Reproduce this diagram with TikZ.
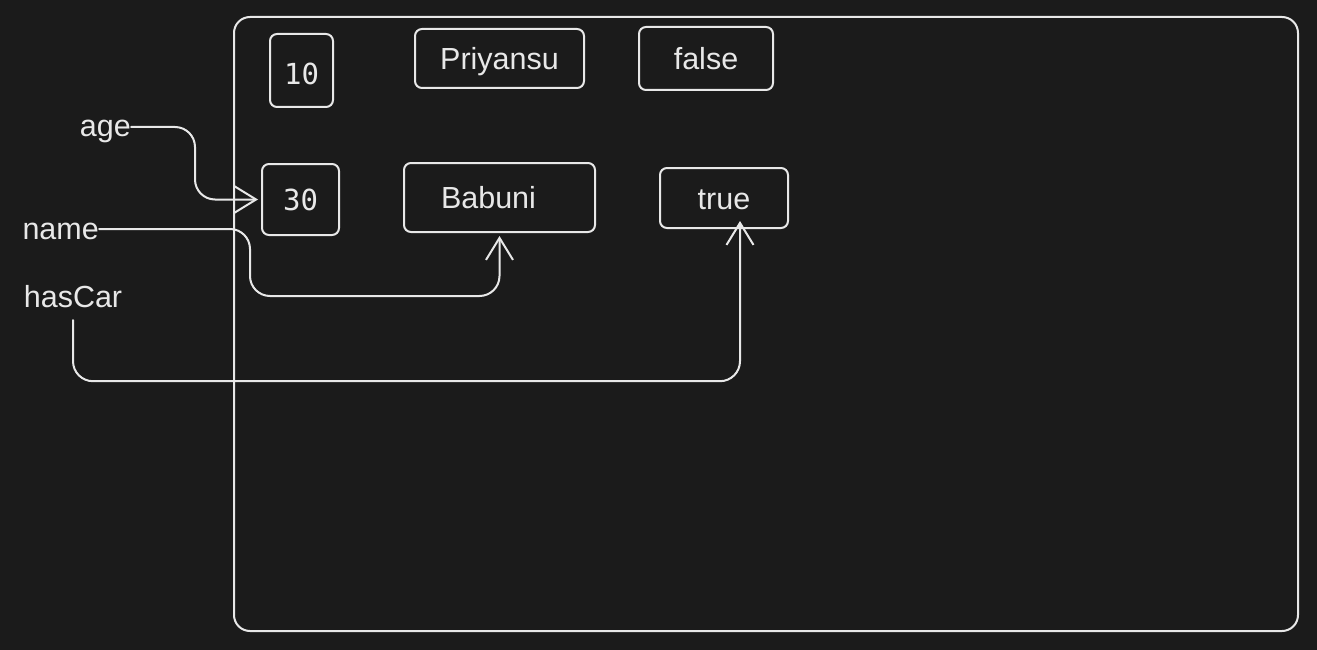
\documentclass[tikz,border=0pt]{standalone}
\usepackage{fontspec}
\setmainfont{Liberation Sans}
\newfontfamily\monofnt{DejaVu Sans Mono}
\usetikzlibrary{arrows.meta}
\definecolor{bgc}{RGB}{27,27,27}
\definecolor{ink}{RGB}{232,232,232}
\tikzset{
  valbox/.style={draw=ink, line width=2pt, rounded corners=7pt, inner sep=0pt,
     text=ink, font=\fontsize{30.5}{30}\selectfont, text height=22pt, text depth=0pt},
  numbox/.style={valbox, font=\monofnt\fontsize{29}{29}\selectfont},
  lbl/.style={text=ink, inner sep=0pt, font=\fontsize{30.5}{30}\selectfont, text height=20pt, text depth=0pt},
  conn/.style={draw=ink, line width=2pt, line cap=round, line join=round, rounded corners=20pt,
     -{Straight Barb[length=22pt,width=27pt,line width=2pt]}}
}
\begin{document}
\begin{tikzpicture}[x=1pt,y=-1pt]
\fill[bgc] (0,0) rectangle (1317,650);
\useasboundingbox (0,0) rectangle (1317,650);
% frame
\node[draw=ink, line width=2pt, rounded corners=16pt, minimum width=1064pt, minimum height=614pt, inner sep=0pt] (frame) at (766,324) {};
% values
\node[numbox, minimum width=63pt, minimum height=73pt, text height=29pt] (b10) at (301.5,70.5) {10};
\node[valbox, minimum width=169pt, minimum height=59pt] (priy) at (499.5,58.5) {Priyansu};
\node[valbox, minimum width=134pt, minimum height=63pt] (fls) at (706,58.5) {false};
\node[numbox, minimum width=77pt, minimum height=71pt, text height=21pt] (b30) at (300.5,199.5) {30};
\node[valbox, minimum width=191pt, minimum height=69pt] (bab) at (499.5,197.5) {Babuni\hspace*{22pt}};
\node[valbox, minimum width=128pt, minimum height=60pt] (tru) at (724,198) {true};
% labels
\node[lbl, anchor=east] (age) at (131,127) {age};
\node[lbl, anchor=east] (name) at (99,229) {name};
\node[lbl] (hascar) at (73,297) {hasCar};
% connectors
\draw[conn] (age.east) -- ++(64,0) |- ([xshift=-3pt]b30.west);
\draw[conn] (name.east) -- ++(151,0) -- ++(0,67) -| ([yshift=-3pt]bab.south);
\draw[conn] ([yshift=-13pt]hascar.south) -- ++(0,61) -| ([xshift=16pt,yshift=8pt]tru.south);
\end{tikzpicture}
\end{document}
